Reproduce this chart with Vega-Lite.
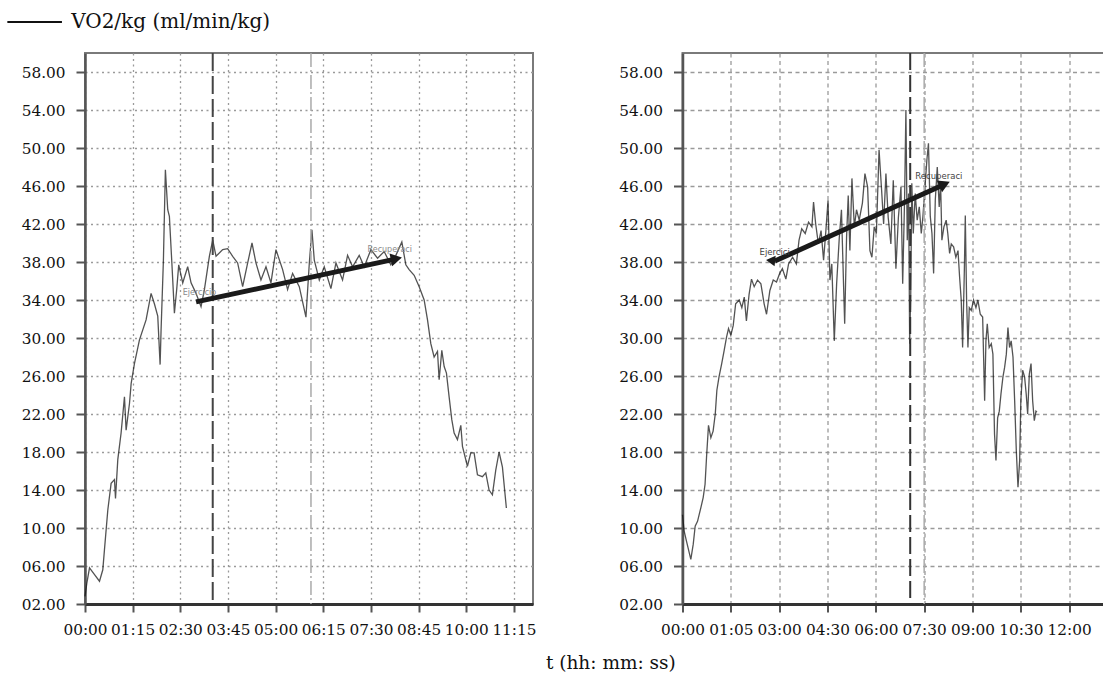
{
  "$schema": "https://vega.github.io/schema/vega-lite/v6.json",
  "background": "white",
  "padding": {"left": 20, "top": 12, "right": 0, "bottom": 4},
  "spacing": 80.5,
  "title": {"text": "t (hh: mm: ss)", "orient": "bottom", "anchor": "middle", "font": "DejaVu Serif", "fontSize": 18.5, "fontWeight": "normal", "color": "#111", "offset": 16, "dx": 41.5},
  "config": {
    "font": "DejaVu Serif",
    "view": {"stroke": "#7a7a7a", "strokeWidth": 2},
    "axis": {"labelFont": "DejaVu Serif", "labelFontSize": 15.3, "labelColor": "#111", "tickColor": "#555", "tickWidth": 2, "domainColor": "#555", "domainWidth": 2.5, "title": null, "gridColor": "#9a9a9a", "gridWidth": 1.3, "grid": true},
    "axisX": {"tickSize": 8, "labelPadding": 10, "domainColor": "#333", "domainWidth": 3, "labelFlush": false, "tickCount": 20},
    "axisY": {"tickSize": 9, "labelPadding": 11, "tickCount": 20},
    "legend": {"orient": "none", "legendX": -60.35, "legendY": -41, "title": null, "symbolType": "M-4.2,0H4.2", "symbolSize": 169, "symbolStrokeWidth": 2, "labelFont": "DejaVu Serif", "labelFontSize": 20, "labelColor": "#111", "labelOffset": 26.5, "labelLimit": 0, "padding": 0}
  },
  "datasets": {
    "left": [
      {"t":0,"v":2.8},{"t":2.9,"v":4.2},{"t":7.1,"v":5.8},{"t":15,"v":5.1},{"t":22.8,"v":4.4},{"t":28,"v":5.6},{"t":30.6,"v":7.7},{"t":35.9,"v":11.9},{"t":41.1,"v":14.7},{"t":46.4,"v":15.1},{"t":48,"v":13.1},{"t":51.6,"v":17.2},{"t":56.8,"v":20},{"t":62.1,"v":23.8},{"t":64.7,"v":20.3},{"t":70,"v":23.1},{"t":72.6,"v":25.2},{"t":77.8,"v":27.3},{"t":85.7,"v":29.8},{"t":96.1,"v":31.9},{"t":104,"v":34.7},{"t":109.2,"v":33.6},{"t":114.5,"v":32.3},{"t":118.2,"v":27.2},{"t":119.7,"v":30.8},{"t":123.4,"v":38.2},{"t":126.5,"v":47.7},{"t":130.2,"v":43.5},{"t":132.8,"v":42.8},{"t":137,"v":37.5},{"t":140.7,"v":32.6},{"t":144.3,"v":35.1},{"t":147.5,"v":37.7},{"t":153.8,"v":35.8},{"t":161.6,"v":37.5},{"t":166.9,"v":35.8},{"t":174.7,"v":34.7},{"t":182.6,"v":33.3},{"t":187.9,"v":35.1},{"t":195.7,"v":38.6},{"t":201,"v":40.3},{"t":206.2,"v":38.6},{"t":216.7,"v":39.3},{"t":224.5,"v":39.4},{"t":232.4,"v":38.6},{"t":240.2,"v":37.9},{"t":248.1,"v":35.4},{"t":256,"v":37.9},{"t":262.8,"v":40},{"t":269,"v":37.9},{"t":276.9,"v":36.1},{"t":284.8,"v":37.5},{"t":292.6,"v":35.8},{"t":300.5,"v":39.3},{"t":311,"v":37.2},{"t":318.8,"v":35.1},{"t":326.7,"v":36.8},{"t":337.2,"v":35.4},{"t":347.7,"v":32.2},{"t":353,"v":37.9},{"t":357.1,"v":41.4},{"t":360.8,"v":38.2},{"t":368.7,"v":36.1},{"t":376.5,"v":37.5},{"t":387,"v":35.2},{"t":394.9,"v":37.9},{"t":405.3,"v":36.1},{"t":413.2,"v":38.7},{"t":421.1,"v":37.5},{"t":431.5,"v":38.7},{"t":439.4,"v":37.5},{"t":449.9,"v":39.3},{"t":460.4,"v":38.4},{"t":470.8,"v":39.1},{"t":481.3,"v":37.7},{"t":489.2,"v":38.7},{"t":498.6,"v":40.1},{"t":504.9,"v":37.7},{"t":510.1,"v":37.2},{"t":518,"v":36.6},{"t":525.9,"v":35.4},{"t":533.7,"v":34},{"t":539,"v":31.9},{"t":544.2,"v":29.4},{"t":549.4,"v":28},{"t":554.7,"v":28.6},{"t":557.3,"v":25.6},{"t":561.5,"v":28.7},{"t":565.2,"v":27},{"t":568.8,"v":26.3},{"t":573,"v":23.8},{"t":577.2,"v":21.4},{"t":580.9,"v":20},{"t":586.1,"v":19.3},{"t":591.4,"v":20.8},{"t":594,"v":18.6},{"t":601.8,"v":16.5},{"t":607.1,"v":17.9},{"t":612.3,"v":17.9},{"t":617.6,"v":15.6},{"t":625.4,"v":15.4},{"t":630.7,"v":15.8},{"t":635.9,"v":14},{"t":641.1,"v":13.5},{"t":646.4,"v":16.1},{"t":651.6,"v":18},{"t":656.9,"v":16.4},{"t":663.1,"v":12.1}
    ],
    "right": [
      {"t":0,"v":11.4},{"t":3,"v":9.7},{"t":7.5,"v":8.6},{"t":15.5,"v":6.7},{"t":20,"v":8.3},{"t":23.6,"v":10.2},{"t":28,"v":10.7},{"t":34,"v":12.1},{"t":38.5,"v":13.2},{"t":42,"v":14.6},{"t":44.7,"v":17.4},{"t":48.4,"v":20.8},{"t":52.8,"v":19.5},{"t":57,"v":20.2},{"t":61,"v":22},{"t":64,"v":24.5},{"t":68,"v":25.9},{"t":73,"v":27.3},{"t":77.6,"v":28.7},{"t":82,"v":30.1},{"t":85.7,"v":31},{"t":90,"v":30.3},{"t":94.4,"v":31.3},{"t":99,"v":33.6},{"t":105.6,"v":34},{"t":110.5,"v":33.2},{"t":115,"v":34.3},{"t":119,"v":31.8},{"t":124,"v":34.6},{"t":128.5,"v":36.2},{"t":133.5,"v":35.4},{"t":139.7,"v":36.1},{"t":146,"v":35.7},{"t":152,"v":33.6},{"t":156.5,"v":32.5},{"t":162.7,"v":35},{"t":169,"v":36.1},{"t":175,"v":35.9},{"t":181,"v":36.8},{"t":186,"v":37.3},{"t":192.5,"v":36.2},{"t":197.5,"v":37.8},{"t":205,"v":38.5},{"t":212,"v":37.8},{"t":217,"v":40.3},{"t":222,"v":41.5},{"t":228.5,"v":41},{"t":234.7,"v":42.2},{"t":241,"v":41.7},{"t":244,"v":44.3},{"t":248,"v":42},{"t":253,"v":39.9},{"t":258,"v":41.3},{"t":262.7,"v":38.2},{"t":267,"v":41.3},{"t":271,"v":44.5},{"t":274.5,"v":36.1},{"t":278,"v":37.8},{"t":282.6,"v":29.7},{"t":287,"v":35.7},{"t":292,"v":40.6},{"t":296,"v":43.5},{"t":300,"v":35.4},{"t":302,"v":31.5},{"t":305.5,"v":40.6},{"t":308.6,"v":45},{"t":311.7,"v":39.2},{"t":315.5,"v":46.8},{"t":320,"v":41.7},{"t":324,"v":43.5},{"t":329,"v":42.4},{"t":335,"v":44.2},{"t":339.7,"v":47.3},{"t":344.7,"v":45.9},{"t":349,"v":39.2},{"t":352.7,"v":38.5},{"t":357,"v":41.7},{"t":361,"v":41},{"t":366,"v":49.8},{"t":370.7,"v":45.6},{"t":374.5,"v":42},{"t":378.8,"v":47.3},{"t":383,"v":42.7},{"t":388,"v":39.9},{"t":392.5,"v":46.6},{"t":397.4,"v":37.3},{"t":402,"v":42.7},{"t":406.8,"v":45.9},{"t":410,"v":35.7},{"t":413.5,"v":44.5},{"t":416,"v":54},{"t":418.5,"v":40.3},{"t":421,"v":45.2},{"t":423,"v":29.4},{"t":425,"v":34.6},{"t":427,"v":46.3},{"t":429.7,"v":41},{"t":433.4,"v":45.2},{"t":437,"v":42.4},{"t":440.9,"v":43.8},{"t":444.6,"v":41},{"t":447.7,"v":42.8},{"t":452,"v":46.3},{"t":455,"v":48.7},{"t":458,"v":50.5},{"t":461.4,"v":42.8},{"t":464.5,"v":41},{"t":467.6,"v":36.8},{"t":470.7,"v":44.5},{"t":474.4,"v":48},{"t":478,"v":43.8},{"t":480.6,"v":46.3},{"t":483,"v":40.3},{"t":486.8,"v":41.7},{"t":491,"v":42.4},{"t":494,"v":41},{"t":497.4,"v":38.9},{"t":500.5,"v":39.9},{"t":504.8,"v":39.6},{"t":509,"v":38.5},{"t":513,"v":39.2},{"t":516,"v":36.4},{"t":519,"v":34},{"t":521.6,"v":29},{"t":524.7,"v":36.8},{"t":526.6,"v":42.9},{"t":529,"v":34},{"t":531.5,"v":29},{"t":534,"v":33.2},{"t":537.7,"v":32.9},{"t":542,"v":34},{"t":546.4,"v":33.2},{"t":550,"v":34},{"t":554.5,"v":32.5},{"t":558.9,"v":32.2},{"t":562.6,"v":23.4},{"t":565,"v":29.7},{"t":567.5,"v":31.5},{"t":571,"v":29},{"t":575,"v":29.4},{"t":578,"v":28.3},{"t":581,"v":19.9},{"t":583.7,"v":17.1},{"t":586.8,"v":21.6},{"t":589.9,"v":22.3},{"t":593,"v":24.1},{"t":596.7,"v":25.9},{"t":599.8,"v":26.9},{"t":603,"v":28.3},{"t":606,"v":31.1},{"t":609,"v":29},{"t":612,"v":29.7},{"t":615.4,"v":28},{"t":618.5,"v":23.4},{"t":621.6,"v":18.1},{"t":624.7,"v":14.3},{"t":627.8,"v":17.1},{"t":630,"v":23.4},{"t":633.4,"v":26.6},{"t":637,"v":25.9},{"t":640,"v":24.1},{"t":642.7,"v":22},{"t":645.8,"v":26.2},{"t":649,"v":27.3},{"t":652,"v":23.4},{"t":655.1,"v":21.3},{"t":658.2,"v":22.3},{"t":660,"v":22.2}
    ]
  },
  "hconcat": [
    {
      "width": 448,
      "height": 551,
      "layer": [
        {
          "data": {"name": "left"},
          "mark": {"type": "line", "strokeWidth": 1.3, "strokeOpacity": 0.72},
          "encoding": {
            "x": {"field": "t", "type": "quantitative", "scale": {"domain": [0, 705], "nice": false},
              "axis": {"values": [0,75,150,225,300,375,450,525,600,675], "gridDash": [2, 3.5],
                "labelExpr": "(floor(datum.value/60) < 10 ? '0' : '') + floor(datum.value/60) + ':' + (datum.value % 60 < 10 ? '0' : '') + (datum.value % 60)"}},
            "y": {"field": "v", "type": "quantitative", "scale": {"domain": [2, 60], "nice": false},
              "axis": {"values": [2,6,10,14,18,22,26,30,34,38,42,46,50,54,58], "format": "05.2f", "gridDash": [2, 3.5]}},
            "color": {"datum": "VO2/kg (ml/min/kg)", "type": "nominal", "scale": {"range": ["#111111"]},
              "legend": {"symbolStrokeWidth": 2, "encode": {"symbols": {"update": {"strokeWidth": {"value": 2}, "strokeOpacity": {"value": 1}}}}}}
          }
        },
        {
          "data": {"values": [{"t": 201}]},
          "mark": {"type": "rule", "color": "#444", "strokeWidth": 2, "strokeDash": [18, 5]},
          "encoding": {"x": {"field": "t", "type": "quantitative"}}
        },
        {
          "data": {"values": [{"t": 355.6}]},
          "mark": {"type": "rule", "color": "#aaa", "strokeWidth": 1.5, "strokeDash": [14, 3, 2, 3]},
          "encoding": {"x": {"field": "t", "type": "quantitative"}}
        },
        {
          "data": {"values": [{"t": 174.8, "v": 33.8, "t2": 488, "v2": 38.3}]},
          "mark": {"type": "rule", "color": "#1a1a1a", "strokeWidth": 5},
          "encoding": {"x": {"field": "t", "type": "quantitative"}, "y": {"field": "v", "type": "quantitative"}, "x2": {"field": "t2"}, "y2": {"field": "v2"}}
        },
        {
          "data": {"values": [{"t": 490, "v": 38.35}]},
          "mark": {"type": "point", "shape": "triangle-right", "angle": -12, "size": 170, "filled": true, "color": "#1a1a1a", "opacity": 1},
          "encoding": {"x": {"field": "t", "type": "quantitative"}, "y": {"field": "v", "type": "quantitative"}}
        },
        {
          "data": {"values": [{"t": 153.8, "v": 34.7, "label": "Ejercicio"}, {"t": 444.6, "v": 39.3, "label": "Recuperaci"}]},
          "mark": {"type": "text", "align": "left", "baseline": "middle", "font": "DejaVu Sans", "fontSize": 8, "color": "#8a8a8a"},
          "encoding": {"x": {"field": "t", "type": "quantitative"}, "y": {"field": "v", "type": "quantitative"}, "text": {"field": "label"}}
        }
      ]
    },
    {
      "width": 435,
      "height": 551,
      "layer": [
        {
          "data": {"name": "right"},
          "mark": {"type": "line", "strokeWidth": 1.3, "strokeOpacity": 0.72},
          "encoding": {
            "x": {"field": "t", "type": "quantitative", "scale": {"domain": [0, 810], "nice": false},
              "axis": {"values": [0,90,180,270,360,450,540,630,720], "gridDash": [4, 3.5],
                "labelExpr": "datum.value == 90 ? '01:05' : (floor(datum.value/60) < 10 ? '0' : '') + floor(datum.value/60) + ':' + (datum.value % 60 < 10 ? '0' : '') + (datum.value % 60)"}},
            "y": {"field": "v", "type": "quantitative", "scale": {"domain": [2, 60], "nice": false},
              "axis": {"values": [2,6,10,14,18,22,26,30,34,38,42,46,50,54,58], "format": "05.2f", "gridDash": [4, 3.5]}},
            "color": {"datum": "VO2/kg (ml/min/kg)", "type": "nominal",
              "legend": {"symbolStrokeWidth": 2, "encode": {"symbols": {"update": {"strokeWidth": {"value": 2}, "strokeOpacity": {"value": 1}}}}}}
          }
        },
        {
          "data": {"values": [{"t": 424}]},
          "mark": {"type": "rule", "color": "#333", "strokeWidth": 2, "strokeDash": [17, 5]},
          "encoding": {"x": {"field": "t", "type": "quantitative"}}
        },
        {
          "data": {"values": [{"t": 450}]},
          "mark": {"type": "rule", "color": "#aaa", "strokeWidth": 1.5, "strokeDash": [14, 3, 2, 3]},
          "encoding": {"x": {"field": "t", "type": "quantitative"}}
        },
        {
          "data": {"values": [{"t": 172, "v": 38.1, "t2": 485, "v2": 46.1}]},
          "mark": {"type": "rule", "color": "#1a1a1a", "strokeWidth": 5},
          "encoding": {"x": {"field": "t", "type": "quantitative"}, "y": {"field": "v", "type": "quantitative"}, "x2": {"field": "t2"}, "y2": {"field": "v2"}}
        },
        {
          "data": {"values": [{"t": 488, "v": 46.2}]},
          "mark": {"type": "point", "shape": "triangle-right", "angle": -24, "size": 170, "filled": true, "color": "#1a1a1a", "opacity": 1},
          "encoding": {"x": {"field": "t", "type": "quantitative"}, "y": {"field": "v", "type": "quantitative"}}
        },
        {
          "data": {"values": [{"t": 168, "v": 38.0}]},
          "mark": {"type": "point", "shape": "triangle-down", "angle": -24, "size": 110, "filled": true, "color": "#1a1a1a", "opacity": 1},
          "encoding": {"x": {"field": "t", "type": "quantitative"}, "y": {"field": "v", "type": "quantitative"}}
        },
        {
          "data": {"values": [{"t": 143.5, "v": 39.1, "label": "Ejercici"}, {"t": 433.5, "v": 47.1, "label": "Recuperaci"}]},
          "mark": {"type": "text", "align": "left", "baseline": "middle", "font": "DejaVu Sans", "fontSize": 8.5, "color": "#444"},
          "encoding": {"x": {"field": "t", "type": "quantitative"}, "y": {"field": "v", "type": "quantitative"}, "text": {"field": "label"}}
        }
      ]
    }
  ]
}
